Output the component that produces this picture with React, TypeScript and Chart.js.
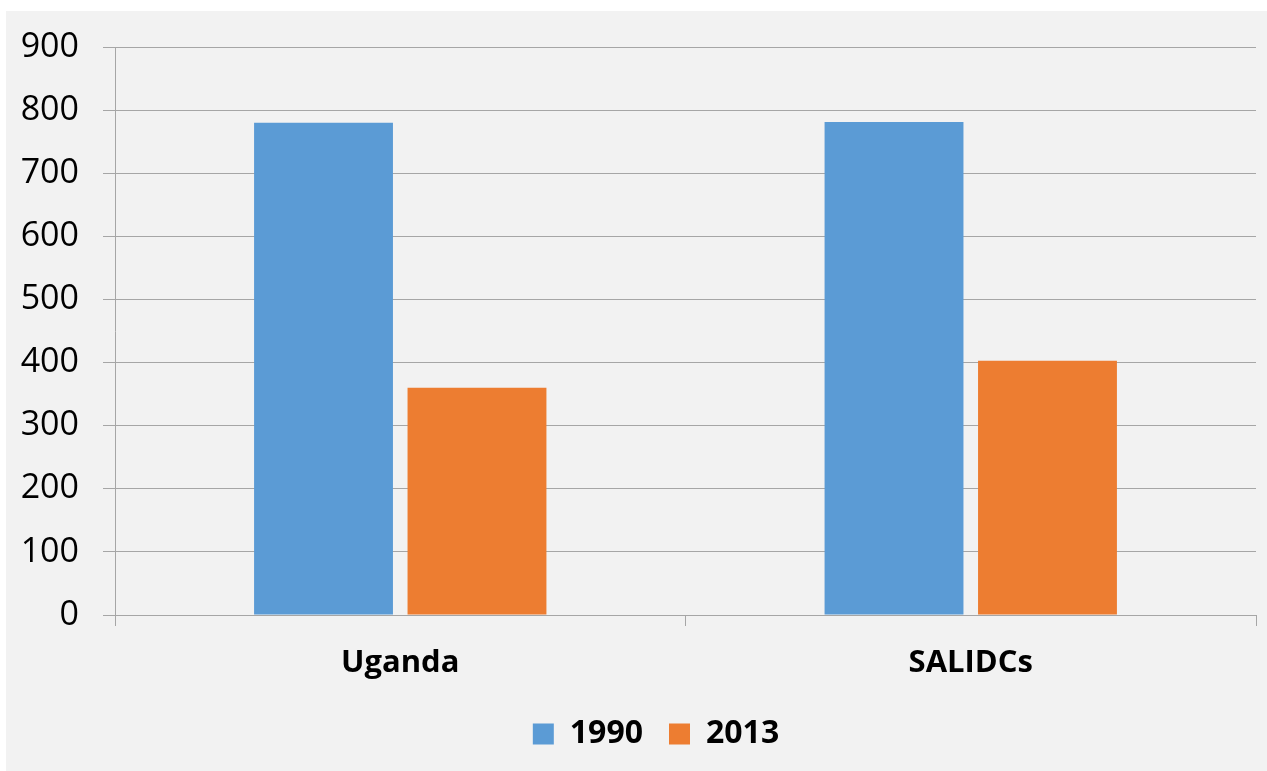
import React, { useEffect, useRef } from "react";
import { Chart, registerables } from "chart.js";

Chart.register(...registerables);

const categories = ["Uganda", "SALIDCs"];
const series1990 = [780, 781];
const series2013 = [360, 403];
const seriesLabels = ["1990", "2013"];
const yTicks = [0, 100, 200, 300, 400, 500, 600, 700, 800, 900];

export default function App() {
  const ref = useRef<HTMLCanvasElement | null>(null);

  useEffect(() => {
    document.body.style.margin = "0";
    document.body.style.background = "#ffffff";
    const ctx = ref.current!.getContext("2d")!;
    const grid = "#a6a6a6";
    const legendShift = {
      id: "legendShift",
      afterLayout(c: any) {
        if (c.legend) {
          c.legend.left += 25;
          c.legend.right += 25;
        }
      },
    };
    const chart = new Chart(ctx, {
      type: "bar",
      data: {
        labels: categories,
        datasets: [
          {
            label: seriesLabels[0],
            data: series1990,
            backgroundColor: "#5b9bd5",
            barPercentage: 0.905,
            categoryPercentage: 0.538,
          },
          {
            label: seriesLabels[1],
            data: series2013,
            backgroundColor: "#ed7d31",
            barPercentage: 0.905,
            categoryPercentage: 0.538,
          },
        ],
      },
      plugins: [legendShift],
      options: {
        animation: false,
        responsive: true,
        maintainAspectRatio: false,
        layout: { padding: { left: 0, right: 11, top: 36, bottom: 11 } },
        plugins: {
          tooltip: { enabled: false },
          legend: {
            position: "bottom",
            labels: {
              boxWidth: 21,
              boxHeight: 21,
              padding: 26,
              color: "#000000",
              font: { family: "Open Sans", size: 32, weight: "bold" },
            },
          },
        },
        scales: {
          x: {
            offset: true,
            grid: {
              offset: true,
              drawOnChartArea: false,
              drawTicks: true,
              tickLength: 11,
              color: grid,
              lineWidth: 1,
            },
            border: { display: true, color: grid, width: 1 },
            ticks: {
              padding: 19,
              color: "#000000",
              font: { family: "Open Sans", size: 31, weight: "bold" },
            },
            afterFit: (s: any) => {
              s.height = 77;
            },
          },
          y: {
            min: 0,
            max: 900,
            afterBuildTicks: (s: any) => {
              s.ticks = yTicks.map((v) => ({ value: v }));
            },
            grid: {
              color: grid,
              lineWidth: 1,
              tickLength: 12,
            },
            border: { display: true, color: grid, width: 1 },
            ticks: {
              padding: 24,
              color: "#000000",
              font: { family: "Open Sans", size: 34 },
            },
            afterFit: (s: any) => {
              s.width = 109;
              s.paddingTop = 0;
              s.paddingBottom = 0;
            },
          },
        },
      },
    });
    return () => chart.destroy();
  }, []);

  return (
    <div
      style={{
        position: "absolute",
        left: 6,
        top: 11,
        width: 1261,
        height: 760,
        background: "#f2f2f2",
      }}
    >
      <canvas ref={ref} />
    </div>
  );
}
